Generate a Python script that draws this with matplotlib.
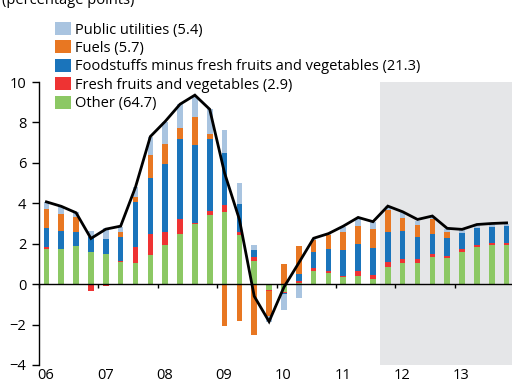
import numpy as np
import matplotlib.pyplot as plt
from matplotlib.patches import Patch
from matplotlib.transforms import blended_transform_factory

plt.rcParams['font.family'] = ['Open Sans', 'DejaVu Sans']

# Quarterly contributions to inflation, 2006 Q1 - 2013 Q4 (percentage points)
years = ['06', '07', '08', '09', '10', '11', '12', '13']
other = [1.72, 1.72, 1.87, 1.60, 1.49, 1.10, 1.03, 1.43,
         1.93, 2.47, 2.97, 3.41, 3.58, 2.43, 1.15, -0.30,
         -0.38, 0.05, 0.66, 0.56, 0.33, 0.40, 0.23, 0.83,
         1.04, 1.05, 1.32, 1.27, 1.60, 1.85, 1.93, 1.93]
fresh = [0.10, 0.03, -0.05, -0.35, -0.07, 0.05, 0.79, 1.03,
         0.66, 0.75, 0.06, 0.20, 0.33, 0.13, 0.20, -0.03,
         -0.05, 0.10, 0.12, 0.07, 0.05, 0.25, 0.22, 0.27,
         0.18, 0.17, 0.17, 0.13, 0.16, 0.11, 0.11, 0.11]
foodstuffs = [0.97, 0.87, 0.72, 0.71, 0.72, 1.19, 2.25, 2.81,
              3.33, 3.94, 3.85, 3.55, 2.59, 1.38, 0.33, -0.03,
              -0.07, 0.37, 0.82, 1.13, 1.30, 1.36, 1.33, 1.47,
              1.40, 1.12, 0.97, 0.86, 0.76, 0.83, 0.80, 0.82]
fuels = [0.92, 0.83, 0.74, 0.00, 0.00, 0.25, 0.24, 1.12,
         1.01, 0.54, 1.37, 0.27, -2.06, -1.83, -2.54, -1.23,
         1.02, 1.35, 0.60, 0.65, 0.91, 0.87, 0.95, 1.10,
         0.66, 0.60, 0.74, 0.33, -0.05, -0.05, 0.00, 0.00]
utilities = [0.33, 0.36, 0.25, 0.31, 0.58, 0.25, 0.50, 0.91,
             1.10, 1.20, 1.02, 1.23, 1.15, 1.04, 0.25, -0.28,
             -0.79, -0.71, 0.05, 0.10, 0.25, 0.36, 0.35, 0.18,
             0.30, 0.18, 0.12, 0.12, 0.15, 0.07, 0.08, 0.14]
headline = [4.07, 3.85, 3.53, 2.26, 2.72, 2.87, 4.80, 7.30,
            8.05, 8.90, 9.35, 8.65, 5.50, 3.20, -0.60, -1.85,
            -0.15, 1.05, 2.27, 2.50, 2.87, 3.30, 3.09, 3.86,
            3.58, 3.20, 3.37, 2.76, 2.71, 2.95, 3.00, 3.03]

series = [
    ('Other (64.7)', other, '#8cc864'),
    ('Fresh fruits and vegetables (2.9)', fresh, '#ee3333'),
    ('Foodstuffs minus fresh fruits and vegetables (21.3)', foodstuffs, '#1a74bb'),
    ('Fuels (5.7)', fuels, '#e87722'),
    ('Public utilities (5.4)', utilities, '#a9c4e0'),
]
forecast_start = 23  # first shaded quarter

n = len(headline)
x = np.arange(n) + 0.5

fig = plt.figure(figsize=(5.12, 3.83), dpi=100)
ax = fig.add_axes([39 / 512, 18 / 383, 473 / 512, 283 / 383])

ax.axvspan(forecast_start, n, color='#e5e6e8', lw=0, zorder=0)

pos = np.zeros(n)
neg = np.zeros(n)
for label, vals, color in series:
    v = np.array(vals)
    base = np.where(v >= 0, pos, neg)
    ax.bar(x, v, 0.38, bottom=base, color=color, lw=0, zorder=2)
    pos += np.clip(v, 0, None)
    neg += np.clip(v, None, 0)

ax.plot(x, headline, color='black', lw=2.0, zorder=4, solid_joinstyle='miter')
ax.axhline(0, color='black', lw=1.0, zorder=3)

ax.set_xlim(0, n - 0.135)
ax.set_ylim(-4, 10)
ax.set_yticks(range(-4, 11, 2))
ax.tick_params(axis='y', length=5, width=1, pad=4, labelsize=10.5)

for side in ['top', 'right']:
    ax.spines[side].set_visible(False)
ax.spines['bottom'].set_position(('data', 0))
ax.spines['bottom'].set_visible(False)
ax.spines['left'].set_linewidth(1)
ax.set_xticks(np.arange(0, n, 4))
ax.tick_params(axis='x', direction='out', length=3, width=1, labelbottom=False)

trans = blended_transform_factory(ax.transData, ax.transAxes)
for i, yr in enumerate(years):
    ax.text(i * 4 - 0.1, -0.012, yr, transform=trans, ha='left', va='top', fontsize=10.5)

handles = [Patch(facecolor=c, edgecolor='none', label=l) for l, _, c in series[::-1]]
ax.legend(handles=handles, loc='upper left', bbox_to_anchor=(55 / 512, 1 - 22 / 383),
          bbox_transform=fig.transFigure, frameon=False, fontsize=10.5,
          handlelength=1.1, handleheight=1.0, handletextpad=0.25,
          labelspacing=0.2, borderpad=0, borderaxespad=0)

fig.text(2 / 512, 1 + 7 / 383, '(percentage points)', ha='left', va='top', fontsize=10.5)

fig.savefig('out.png', dpi=100)
